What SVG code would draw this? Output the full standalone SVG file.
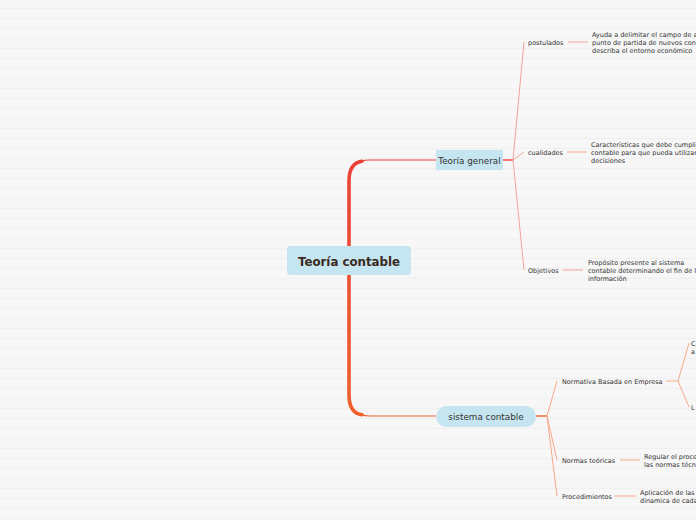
<svg xmlns="http://www.w3.org/2000/svg" width="696" height="520" viewBox="0 0 696 520">
<defs>
<pattern id="bg" x="0" y="0" width="696" height="10" patternUnits="userSpaceOnUse">
<rect width="696" height="10" fill="#f7f7f7"/>
<rect y="7.8" width="696" height="1.3" fill="#f0f0f0"/>
</pattern>
<linearGradient id="trunk" x1="0" y1="160" x2="0" y2="416" gradientUnits="userSpaceOnUse">
<stop offset="0" stop-color="#ea4138"/>
<stop offset="1" stop-color="#f0602c"/>
</linearGradient>
</defs>
<style>
.t{font-family:"DejaVu Sans","Liberation Sans",sans-serif;fill:#333333}
.sm{font-size:6.5px}
.lbl{font-size:6.5px}
.red{stroke:#f6a29c;stroke-width:1;fill:none}
.org{stroke:#f7a98a;stroke-width:1;fill:none}
</style>
<rect width="696" height="520" fill="url(#bg)"/>

<g id="connectors">
<path d="M436 160 H370 Q349 160 349 181 V395 Q349 416 370 416 H436" stroke="url(#trunk)" stroke-width="1.2" fill="none"/>
<path d="M362 161.2 Q349 163 349 181 V395 Q349 413 362 414.8" stroke="url(#trunk)" stroke-width="3.6" fill="none" stroke-linecap="round"/>
<path d="M503 160 H513" stroke="#f0504a" stroke-width="1.5"/>
<path class="red" d="M513 160 L524 42 M513 160 L524 152 M513 160 L524 270"/>
<path class="red" d="M568 42 H588 M567 152 H587 M563 270 H583"/>
<path d="M536 416 H547" stroke="#f26a3a" stroke-width="1.5"/>
<path class="org" d="M547 416 L557 381 M547 416 L557 460 M547 416 L557 496"/>
<path class="org" d="M666 381 H678 L689 343 M678 381 L689 407 M620 460 H640 M614 496 H636"/>
</g>

<g id="root">
<rect x="287" y="246" width="124" height="29" rx="4" fill="#c5e5f0"/>
<text class="t" x="349" y="265.5" text-anchor="middle" font-size="11.8" font-weight="bold" style="fill:#3b2a1e">Teoría contable</text>
</g>

<g id="teoria-general">
<rect x="436" y="150" width="67" height="20" fill="#c5e5f0"/>
<text class="t" x="469.5" y="163.5" text-anchor="middle" font-size="8.8">Teoría general</text>
</g>

<g id="postulados">
<text class="t lbl" x="528" y="44.5">postulados</text>
</g>
<g id="postulados-desc">
<text class="t sm" x="592" y="36.5">Ayuda a delimitar el campo de a</text>
<text class="t sm" x="592" y="44.5">punto de partida de nuevos con</text>
<text class="t sm" x="592" y="52.5">describa el entorno económico</text>
</g>

<g id="cualidades">
<text class="t lbl" x="528" y="154.5">cualidades</text>
</g>
<g id="cualidades-desc">
<text class="t sm" x="591" y="146.5">Características que debe cumpli</text>
<text class="t sm" x="591" y="154.5">contable para que pueda utilizar</text>
<text class="t sm" x="591" y="162.5">decisiones</text>
</g>

<g id="objetivos">
<text class="t lbl" x="528" y="272.5">Objetivos</text>
</g>
<g id="objetivos-desc">
<text class="t sm" x="588" y="264.5">Propósito presente al sistema</text>
<text class="t sm" x="588" y="272.5">contable determinando el fin de l</text>
<text class="t sm" x="588" y="280.5">información</text>
</g>

<g id="sistema-contable">
<rect x="436" y="406" width="100" height="21" rx="10.5" fill="#c5e5f0"/>
<text class="t" x="486" y="420" text-anchor="middle" font-size="8.8">sistema contable</text>
</g>

<g id="normativa">
<text class="t lbl" x="562" y="383.5">Normativa Basada en Empresa</text>
</g>
<g id="normativa-c">
<text class="t sm" x="691" y="345.5">C</text>
<text class="t sm" x="691" y="353.5">a</text>
</g>
<g id="normativa-l">
<text class="t sm" x="691" y="409.5">L</text>
</g>

<g id="normas-teoricas">
<text class="t lbl" x="562" y="462.5">Normas teóricas</text>
</g>
<g id="normas-desc">
<text class="t sm" x="644" y="458.5">Regular el proce</text>
<text class="t sm" x="644" y="466.5">las normas técn</text>
</g>

<g id="procedimientos">
<text class="t lbl" x="562" y="498.5">Procedimientos</text>
</g>
<g id="procedimientos-desc">
<text class="t sm" x="640" y="494.5">Aplicación de las</text>
<text class="t sm" x="640" y="502.5">dinamica de cada</text>
</g>
</svg>
